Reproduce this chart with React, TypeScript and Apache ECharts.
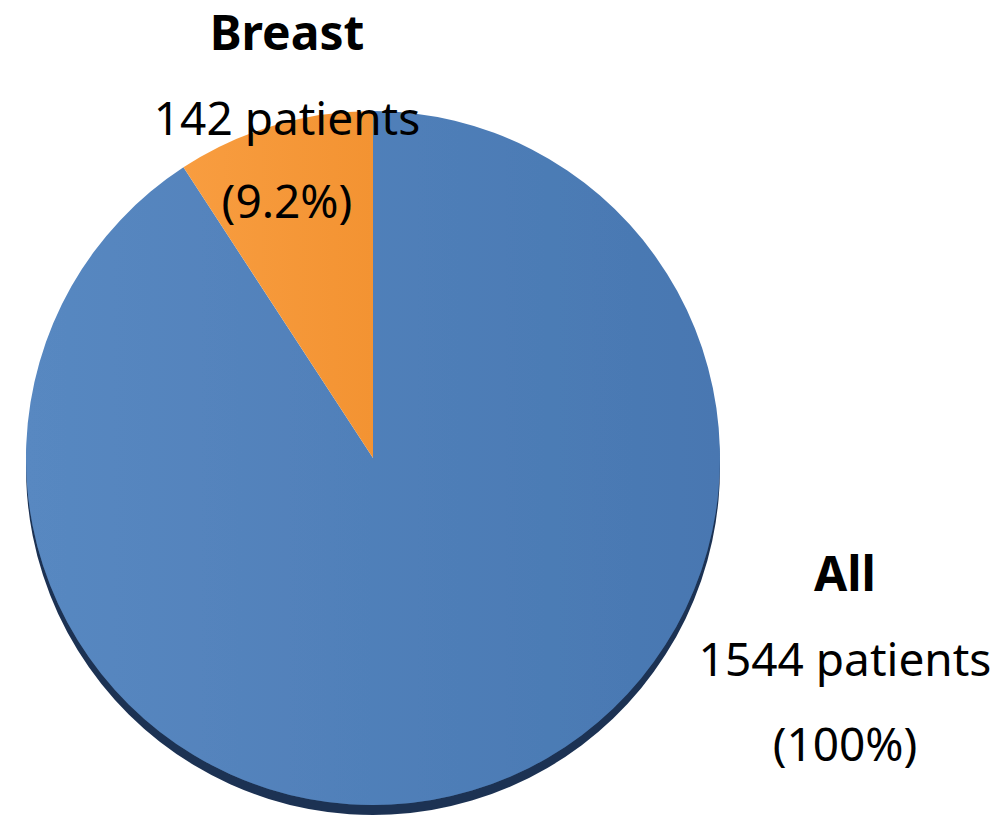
import React, { useEffect, useRef } from "react";
import * as echarts from "echarts";

const sliceNames = ["All", "Breast"];
const sliceValues = [1402, 142];
const sliceColors = [
  ["#5888c1", "#4877b1"],
  ["#f89d40", "#f39332"],
];

const labelNames = ["Breast", "All"];
const labelPatients = [142, 1544];
const labelPercents = ["(9.2%)", "(100%)"];

export default function App() {
  const ref = useRef<HTMLDivElement>(null);
  useEffect(() => {
    if (!ref.current) return;
    const chart = echarts.init(ref.current, null, { renderer: "svg" });
    const font = "'Noto Sans', 'Open Sans', sans-serif";
    const labelPos = [
      { x: 287, y: [31, 117, 200] },
      { x: 845, y: [572, 658, 743] },
    ];
    const graphics: any[] = [];
    labelNames.forEach((n, i) => {
      const p = labelPos[i];
      const lines = [n, `${labelPatients[i]} patients`, labelPercents[i]];
      lines.forEach((t, j) => {
        graphics.push({
          type: "text",
          x: p.x,
          y: p.y[j],
          silent: true,
          style: {
            text: t,
            fill: "#000",
            font: `${j === 0 ? "bold " : ""}${j === 0 ? 48 : 46}px ${font}`,
            textAlign: "center",
            textVerticalAlign: "middle",
          },
          z: 10,
        });
      });
    });
    chart.setOption({
      animation: false,
      backgroundColor: "#ffffff",
      series: [
        {
          type: "pie",
          center: [373, 458],
          radius: 347,
          startAngle: 90,
          clockwise: true,
          silent: true,
          label: { show: false },
          labelLine: { show: false },
          emphasis: { disabled: true },
          data: sliceNames.map((name, i) => ({
            name,
            value: sliceValues[i],
            itemStyle: {
              borderWidth: 0,
              color: new echarts.graphic.LinearGradient(0, 0, 1, 0, [
                { offset: 0, color: sliceColors[i][0] },
                { offset: 1, color: sliceColors[i][1] },
              ]),
              ...(i === 0
                ? { shadowColor: "#1f3352", shadowBlur: 1, shadowOffsetY: 10, shadowOffsetX: 0 }
                : {}),
            },
          })),
        },
      ],
      graphic: graphics,
    });
    return () => chart.dispose();
  }, []);
  return <div ref={ref} style={{ width: 996, height: 819, position: "absolute", left: 0, top: 0 }} />;
}
